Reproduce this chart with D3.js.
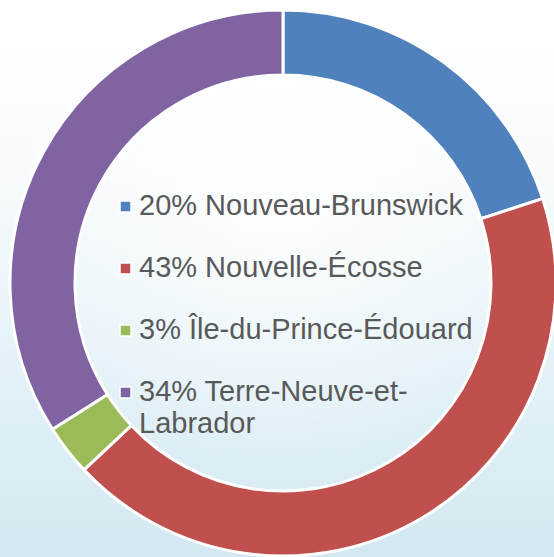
<!DOCTYPE html>
<html>
<head>
<meta charset="utf-8">
<script src="https://cdn.jsdelivr.net/npm/d3@7"></script>
<style>
  html, body { margin: 0; padding: 0; overflow: hidden; }
  svg { display: block; }
</style>
</head>
<body>
<div id="chart"></div>
<script>
// data
var provinces = ["Nouveau-Brunswick", "Nouvelle-Écosse", "Île-du-Prince-Édouard", "Terre-Neuve-et-Labrador"];
var shares = [20, 43, 3, 34];
var colors = ["#4f81bd", "#c0504d", "#9bbb59", "#8064a2"];
// legend lines as they wrap in the picture
var legendLines = [
  ["20% Nouveau-Brunswick"],
  ["43% Nouvelle-Écosse"],
  ["3% Île-du-Prince-Édouard"],
  ["34% Terre-Neuve-et-", "Labrador"]
];

var W = 554, H = 557;
var CX = 283, CY = 283;
var R_OUT = 273, R_IN = 208;

var svg = d3.select("#chart").append("svg")
    .attr("width", W)
    .attr("height", H);

var defs = svg.append("defs");
var bg = defs.append("linearGradient")
    .attr("id", "bg")
    .attr("x1", 0).attr("y1", 0).attr("x2", 0).attr("y2", 1);
bg.append("stop").attr("offset", "0%").attr("stop-color", "#ffffff");
bg.append("stop").attr("offset", "30%").attr("stop-color", "#f8fbfd");
bg.append("stop").attr("offset", "65%").attr("stop-color", "#e4f2f8");
bg.append("stop").attr("offset", "100%").attr("stop-color", "#d3e8f1");

var glow = defs.append("radialGradient")
    .attr("id", "glow")
    .attr("cx", 0.5).attr("cy", 0.35).attr("r", 0.5);
glow.append("stop").attr("offset", "0%").attr("stop-color", "#ffffff").attr("stop-opacity", 0.8);
glow.append("stop").attr("offset", "100%").attr("stop-color", "#ffffff").attr("stop-opacity", 0);

svg.append("rect").attr("width", W).attr("height", H).attr("fill", "url(#bg)");
svg.append("rect").attr("width", W).attr("height", H).attr("fill", "url(#glow)");

var pie = d3.pie().sort(null).value(function(d) { return d; });
var arc = d3.arc().innerRadius(R_IN).outerRadius(R_OUT);

var ring = svg.append("g").attr("transform", "translate(" + CX + "," + CY + ")");
ring.selectAll("path")
    .data(pie(shares))
    .enter().append("path")
    .attr("d", arc)
    .attr("fill", function(d, i) { return colors[i]; })
    .attr("stroke", "#ffffff")
    .attr("stroke-width", 3)
    .attr("stroke-linejoin", "miter");

// legend in the hole
var LEG_X = 120, LEG_Y = 215, ROW = 62, LINE = 32;
var legend = svg.append("g");
var rows = legend.selectAll("g")
    .data(legendLines)
    .enter().append("g")
    .attr("transform", function(d, i) { return "translate(" + LEG_X + "," + (LEG_Y + i * ROW) + ")"; });

rows.append("rect")
    .attr("x", 0).attr("y", -14)
    .attr("width", 11).attr("height", 11)
    .attr("fill", function(d, i) { return colors[i]; })
    .attr("stroke", "#ffffff")
    .attr("stroke-width", 1.5);

rows.append("text")
    .attr("x", 19)
    .attr("y", 0)
    .attr("font-family", "Liberation Sans, Arial, sans-serif")
    .attr("font-size", 29)
    .attr("fill", "#595959")
    .selectAll("tspan")
    .data(function(d) { return d; })
    .enter().append("tspan")
    .attr("x", 19)
    .attr("dy", function(d, j) { return j === 0 ? 0 : LINE; })
    .text(function(d) { return d; });
</script>
</body>
</html>
